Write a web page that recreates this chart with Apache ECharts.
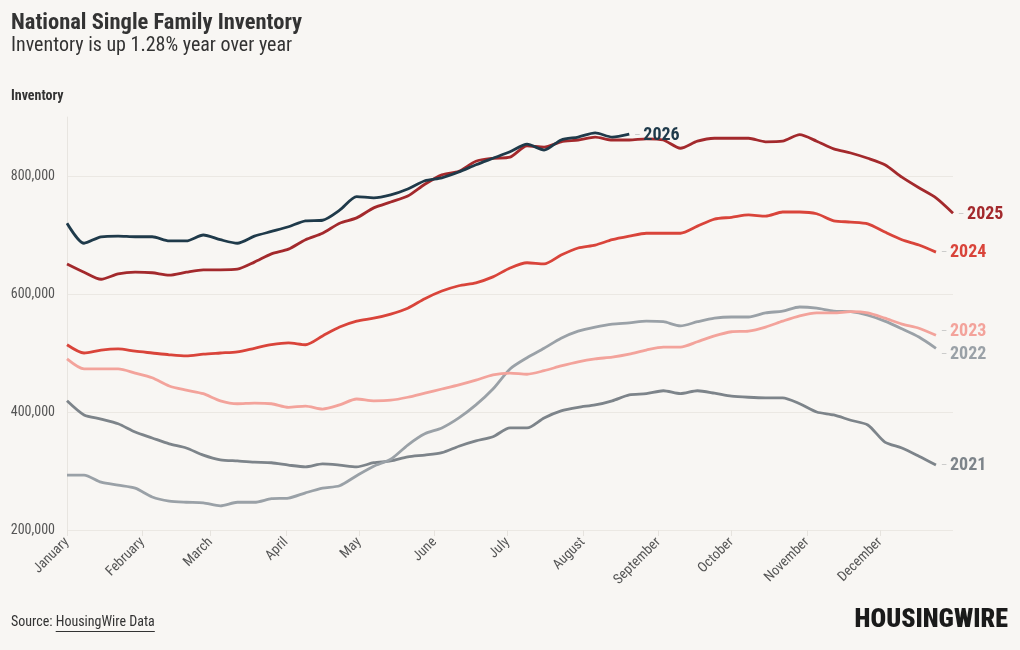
<!DOCTYPE html>
<html>
<head>
<meta charset="utf-8">
<script src="https://cdn.jsdelivr.net/npm/echarts@6/dist/echarts.min.js"></script>
<style>
html,body{margin:0;padding:0;background:#f8f6f3;}
#chart{width:1020px;height:650px;}
</style>
</head>
<body>
<div id="chart"></div>
<script>
// ---- data ----
const months = ['January','February','March','April','May','June','July','August','September','October','November','December'];
const monthStartDays = [0,31,59,90,120,151,181,212,243,273,304,334];
const yTicks = [200000,400000,600000,800000];
const years = ['2021','2022','2023','2024','2025','2026'];

const inv2021 = [419000,395000,388000,380000,366000,356000,346000,339000,327000,319000,317000,315000,314000,310000,307000,312000,310000,307000,314000,317000,324000,327000,331000,342000,351000,358000,373000,373000,390000,402000,408000,412000,419000,429000,431000,436000,431000,436000,432000,427000,425000,424000,424000,414000,400000,395000,386000,378000,349000,339000,325000,310000];
const inv2022 = [293000,293000,281000,276000,271000,256000,249000,247000,246000,241000,247000,247000,253000,254000,263000,271000,275000,292000,308000,320000,344000,363000,373000,390000,412000,439000,473000,492000,508000,525000,537000,544000,549000,551000,554000,553000,546000,553000,559000,561000,561000,568000,571000,578000,576000,571000,570000,564000,554000,541000,527000,508000];
const inv2023 = [490000,473000,473000,473000,466000,458000,444000,437000,431000,419000,414000,415000,414000,408000,410000,405000,412000,422000,419000,420000,425000,432000,439000,446000,454000,463000,466000,464000,470000,478000,485000,490000,493000,498000,505000,510000,510000,519000,529000,536000,537000,544000,554000,563000,568000,568000,570000,568000,559000,549000,542000,530000];
const inv2024 = [514000,500000,505000,507000,503000,500000,497000,495000,498000,500000,502000,508000,514000,517000,514000,529000,544000,554000,559000,566000,576000,592000,605000,614000,619000,629000,644000,653000,651000,666000,678000,683000,692000,698000,703000,703000,703000,715000,727000,730000,734000,732000,739000,739000,736000,724000,722000,719000,705000,692000,683000,671000];
const inv2025 = [651000,637000,625000,634000,637000,636000,632000,637000,641000,641000,642000,654000,668000,676000,692000,703000,720000,729000,746000,756000,766000,786000,802000,808000,825000,830000,832000,851000,849000,858000,861000,866000,861000,861000,863000,861000,847000,859000,864000,864000,864000,858000,859000,870000,859000,846000,839000,830000,819000,798000,780000,763000,737000];
const inv2026 = [720000,686000,697000,698000,697000,697000,690000,690000,700000,692000,686000,698000,706000,714000,724000,725000,742000,765000,763000,768000,778000,792000,797000,807000,819000,830000,841000,854000,844000,861000,866000,873000,866000,871000];

const seriesValues = [inv2021, inv2022, inv2023, inv2024, inv2025, inv2026];
const colors = ['#7d848a','#9aa1a7','#f3a39b','#d9443a','#a3292c','#1f3a4a'];
const labelOffsets = [[0,0],[0,6],[0,-4],[0,0],[0,1],[0,1]];

const FONT = "'Roboto Condensed','Liberation Sans Narrow','DejaVu Sans Condensed',Roboto,sans-serif";

function measure(text, font){
  const c = document.createElement('canvas').getContext('2d');
  c.font = font;
  return c.measureText(text).width;
}

const chart = echarts.init(document.getElementById('chart'), null, {renderer:'canvas'});

const series = years.map((y, k) => ({
  name: y,
  type: 'line',
  data: seriesValues[k].map((v, i) => [i * 7, v]),
  showSymbol: false,
  smooth: 0.25,
  z: 10 + k,
  lineStyle: {color: colors[k], width: 2.8},
  itemStyle: {color: colors[k]},
  emphasis: {disabled: true},
  endLabel: {
    show: true,
    distance: 5,
    offset: labelOffsets[k],
    formatter: '{d|–} {y|' + y + '}',
    rich: {
      d: {color: '#c4c4c4', fontSize: 11, fontFamily: FONT},
      y: {color: colors[k], fontSize: 18, fontWeight: 'bold', fontFamily: FONT}
    }
  }
}));

const srcFont = '14px ' + FONT;
const srcPrefix = 'Source: ';
const srcX = 11;
const prefW = measure(srcPrefix, srcFont);
const linkW = measure('HousingWire Data', srcFont);

const option = {
  backgroundColor: '#f8f6f3',
  animation: false,
  textStyle: {fontFamily: FONT},
  grid: {left: 67, right: 67, top: 117, bottom: 120},
  xAxis: {
    type: 'value',
    min: 0,
    max: 364,
    axisLine: {show: false},
    axisTick: {show: true, customValues: monthStartDays, length: 6, lineStyle: {color: '#e6e3de'}},
    splitLine: {show: false},
    axisLabel: {
      customValues: monthStartDays,
      rotate: 45,
      margin: 10,
      color: '#555',
      fontSize: 14,
      fontFamily: FONT,
      formatter: v => months[monthStartDays.indexOf(v)]
    }
  },
  yAxis: {
    type: 'value',
    min: 200000,
    max: 900000,
    axisLine: {show: true, lineStyle: {color: '#e8e5e0'}},
    axisTick: {show: false, customValues: yTicks},
    splitLine: {show: true, lineStyle: {color: '#ebe8e3', width: 1}},
    axisLabel: {
      customValues: yTicks,
      margin: 12,
      color: '#555',
      fontSize: 14,
      fontFamily: FONT,
      formatter: v => v.toLocaleString('en-US')
    }
  },
  graphic: [
    {type: 'text', left: 11, top: 12, style: {text: 'National Single Family Inventory', font: 'bold 22.5px ' + FONT, fill: '#333'}},
    {type: 'text', left: 11, top: 36, style: {text: 'Inventory is up 1.28% year over year', font: '20px ' + FONT, fill: '#333'}},
    {type: 'text', left: 11, top: 89, style: {text: 'Inventory', font: 'bold 14px ' + FONT, fill: '#333'}},
    {type: 'text', left: srcX, top: 615, style: {text: srcPrefix, font: srcFont, fill: '#333'}},
    {type: 'text', left: srcX + prefW, top: 615, style: {text: 'HousingWire Data', font: srcFont, fill: '#333'}},
    {type: 'rect', shape: {x: srcX + prefW, y: 631, width: linkW, height: 1}, style: {fill: '#333'}},
    {type: 'text', right: 12, top: 607, style: {text: 'HOUSINGWIRE', font: '900 26px ' + FONT, fill: '#1a1a1a'}}
  ],
  series: series
};

chart.setOption(option);
</script>
</body>
</html>
